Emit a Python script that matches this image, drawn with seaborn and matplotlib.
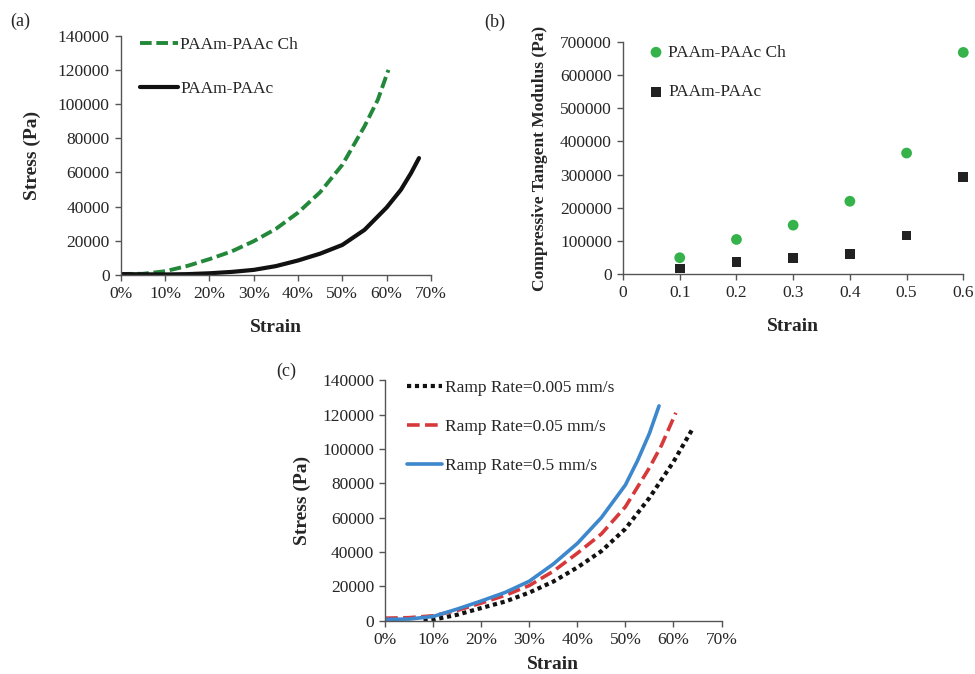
import matplotlib
matplotlib.use("Agg")
import matplotlib.pyplot as plt
import seaborn as sns
from matplotlib.ticker import PercentFormatter, MultipleLocator

sns.set_style("ticks")
plt.rcParams['font.family'] = ['Liberation Serif', 'DejaVu Serif']

# (a) stress-strain curves
strain_ch = [0.0, 0.05, 0.10, 0.15, 0.20, 0.25, 0.30, 0.35, 0.40, 0.45, 0.50, 0.55, 0.58, 0.604]
stress_ch = [600, 700, 2200, 5300, 9300, 13800, 19800, 27000, 36500, 48500, 64500, 87000, 102500, 120000]
strain_pa = [0.0, 0.05, 0.10, 0.15, 0.20, 0.25, 0.30, 0.35, 0.40, 0.45, 0.50, 0.55, 0.60, 0.632, 0.655, 0.673]
stress_pa = [500, 400, 300, 500, 1000, 1800, 3000, 5200, 8500, 12500, 17600, 26400, 39500, 49800, 59600, 68400]

# (b) tangent modulus
mod_strain = [0.1, 0.2, 0.3, 0.4, 0.5, 0.6]
mod_ch = [50000, 105000, 148000, 220000, 365000, 668000]
mod_pa = [18000, 38000, 50000, 62000, 117000, 293000]

# (c) ramp rates
strain_r1 = [0.08, 0.10, 0.15, 0.20, 0.25, 0.30, 0.35, 0.40, 0.45, 0.50, 0.55, 0.60, 0.638]
stress_r1 = [0, 600, 3500, 7400, 11200, 16400, 22800, 31000, 40500, 53500, 71500, 92500, 110800]
strain_r2 = [0.0, 0.05, 0.10, 0.15, 0.20, 0.25, 0.30, 0.35, 0.40, 0.45, 0.50, 0.55, 0.575, 0.605]
stress_r2 = [1500, 1800, 2900, 6000, 10300, 14800, 20500, 28800, 39300, 50500, 66300, 89000, 102000, 121000]
strain_r3 = [0.0, 0.05, 0.10, 0.15, 0.20, 0.25, 0.30, 0.35, 0.40, 0.45, 0.50, 0.525, 0.55, 0.57]
stress_r3 = [800, 1000, 2500, 6800, 11500, 16500, 23000, 33000, 45000, 60000, 79000, 93000, 109000, 125000]

fig = plt.figure(figsize=(9.75, 6.74), dpi=100)
ax_a = fig.add_axes([0.124, 0.592, 0.318, 0.355])
ax_b = fig.add_axes([0.639, 0.593, 0.349, 0.345])
ax_c = fig.add_axes([0.395, 0.079, 0.345, 0.357])

green_dark = '#23883a'
green = '#35b24a'

sns.lineplot(x=strain_ch, y=stress_ch, ax=ax_a, color=green_dark, lw=2.8,
             linestyle=(0, (3, 1.2)), label='PAAm-PAAc Ch')
sns.lineplot(x=strain_pa, y=stress_pa, ax=ax_a, color='#111111', lw=3,
             label='PAAm-PAAc')

sns.scatterplot(x=mod_strain, y=mod_ch, ax=ax_b, color=green, marker='o', s=60,
                edgecolor='none', label='PAAm-PAAc Ch', clip_on=False, zorder=3)
sns.scatterplot(x=mod_strain, y=mod_pa, ax=ax_b, color='#222222', marker='s', s=48,
                edgecolor='none', label='PAAm-PAAc', clip_on=False, zorder=3)

sns.lineplot(x=strain_r1, y=stress_r1, ax=ax_c, color='#111111', lw=3,
             linestyle=(0, (1, 0.9)), label='Ramp Rate=0.005 mm/s')
sns.lineplot(x=strain_r2, y=stress_r2, ax=ax_c, color='#d7393b', lw=2.6,
             linestyle=(0, (3.5, 1.5)), label='Ramp Rate=0.05 mm/s')
sns.lineplot(x=strain_r3, y=stress_r3, ax=ax_c, color='#3d87cc', lw=2.6,
             label='Ramp Rate=0.5 mm/s')

for ax in (ax_a, ax_c):
    ax.set_xlim(0, 0.70)
    ax.set_ylim(0, 140000)
    ax.xaxis.set_major_locator(MultipleLocator(0.1))
    ax.xaxis.set_major_formatter(PercentFormatter(xmax=1, decimals=0))
    ax.yaxis.set_major_locator(MultipleLocator(20000))

ax_a.set_ylabel('Stress (Pa)', fontweight='bold', fontsize=14, labelpad=12)
ax_c.set_ylabel('Stress (Pa)', fontweight='bold', fontsize=14, labelpad=8)

ax_b.set_xlim(0, 0.6)
ax_b.set_ylim(0, 700000)
ax_b.xaxis.set_major_locator(MultipleLocator(0.1))
ax_b.xaxis.set_major_formatter(plt.FuncFormatter(lambda v, p: '0' if v == 0 else f'{v:.1f}'))
ax_b.yaxis.set_major_locator(MultipleLocator(100000))
ax_b.set_ylabel('Compressive Tangent Modulus (Pa)', fontweight='bold', fontsize=12.5, labelpad=9)

for ax in (ax_a, ax_b, ax_c):
    sns.despine(ax=ax)
    ax.tick_params(labelsize=12.5, length=4, width=1, color='#555555', pad=4)
    for sp in ('left', 'bottom'):
        ax.spines[sp].set_color('#555555')
        ax.spines[sp].set_linewidth(1)

ax_a.set_xlabel('Strain', fontweight='bold', fontsize=14, labelpad=12)
ax_b.set_xlabel('Strain', fontweight='bold', fontsize=14, labelpad=12)
ax_c.set_xlabel('Strain', fontweight='bold', fontsize=14, labelpad=6)

ax_a.legend(loc='upper left', bbox_to_anchor=(0.01, 1.06), frameon=False, fontsize=12.5,
            handlelength=2.2, handletextpad=0.15, labelspacing=1.6)
ax_b.legend(loc='upper left', bbox_to_anchor=(0.0, 1.055), frameon=False, fontsize=12.5,
            handletextpad=-0.3, labelspacing=1.35)
ax_c.legend(loc='upper left', bbox_to_anchor=(0.02, 1.065), frameon=False, fontsize=12.5,
            handlelength=2.0, handletextpad=0.15, labelspacing=1.3)

fig.text(0.011, 0.962, '(a)', fontsize=13)
fig.text(0.497, 0.960, '(b)', fontsize=13)
fig.text(0.283, 0.442, '(c)', fontsize=13)

fig.savefig('out.png', dpi=100)
